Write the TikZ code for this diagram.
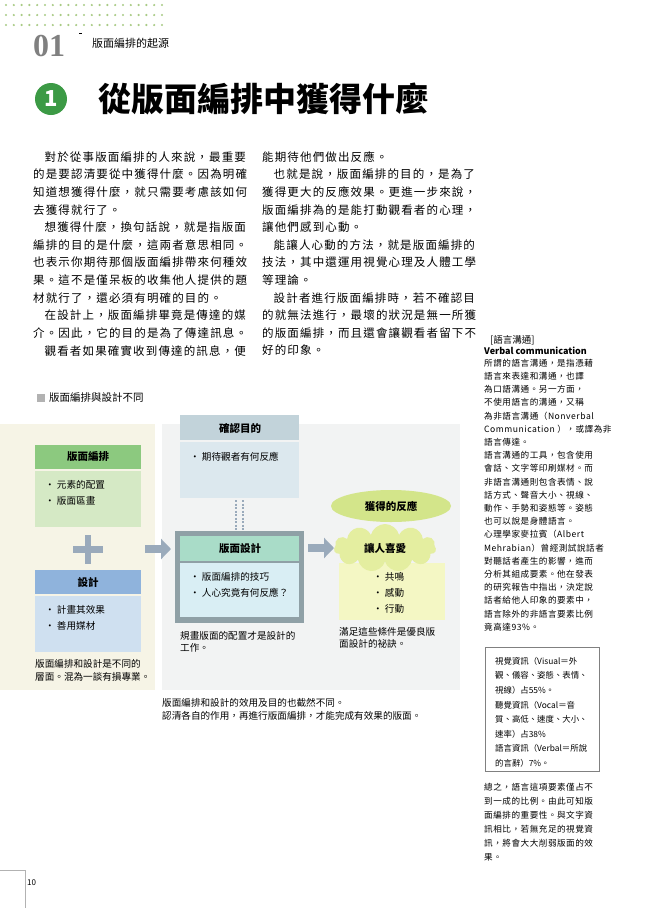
\documentclass[tikz,border=0pt]{standalone}
\usepackage{fontspec}
\setmainfont{Noto Sans CJK TC}
\newfontfamily\bodyfont[LetterSpace=10]{Noto Sans CJK TC}
\newfontfamily\sidefont[LetterSpace=6]{Noto Sans CJK TC}
\newfontfamily\serifnum{Liberation Serif}
\usetikzlibrary{shapes.geometric,shapes.symbols,arrows.meta}
\definecolor{gA}{HTML}{8CC97F}\definecolor{gB}{HTML}{D5E9C5}
\definecolor{bA}{HTML}{8FB3DC}\definecolor{bB}{HTML}{CFE0F0}
\definecolor{cA}{HTML}{C2D3DA}\definecolor{cB}{HTML}{DCE8EE}
\definecolor{tA}{HTML}{A9DCC8}\definecolor{tB}{HTML}{D9EEF4}
\definecolor{fr}{HTML}{8FA0A6}\definecolor{ar}{HTML}{9AAABB}
\definecolor{yA}{HTML}{D3E58A}\definecolor{yB}{HTML}{E4EEA0}\definecolor{yC}{HTML}{F4F7C4}
\definecolor{cream}{HTML}{F6F4E6}\definecolor{lg}{HTML}{F2F3F3}
\definecolor{dg}{HTML}{3C9A45}\definecolor{dot}{HTML}{A9CB85}
\tikzset{
 body/.style={anchor=west,inner sep=0,font=\bodyfont\fontsize{11.5}{12}\selectfont},
 side/.style={anchor=west,inner sep=0,font=\sidefont\fontsize{8.6}{9}\selectfont},
 boxt/.style={anchor=west,inner sep=0,font=\fontsize{8.4}{9}\selectfont},
 lbl/.style={anchor=west,inner sep=0,font=\fontsize{9.6}{11}\selectfont},
 hd/.style={inner sep=0,font=\fontsize{10.5}{12}\selectfont\bfseries},
 fat/.style={line width=8pt,color=ar,-{Triangle[length=10pt,width=20pt]}}
}
\begin{document}
\begin{tikzpicture}[x=1pt,y=-1pt]
\useasboundingbox (0,0) rectangle (662,908);
\fill[white] (0,0) rectangle (662,908);
\foreach \r in {0,1,2}{\foreach \c in {0,...,20}{\fill[dot] (6+\c*7.8,5+\r*10) circle (1.2);}}
\node[anchor=west,inner sep=0,text=gray,font=\serifnum\fontsize{32}{32}\selectfont\bfseries] (num) at (33,46) {01};
\fill[black] (79,33) rectangle (82,34.3);
\node[anchor=west,inner sep=0,font=\fontsize{11}{12}\selectfont] (sec) at (92,43) {版面編排的起源};
\fill[dg] (51,99) circle (16);
\node[text=white,font=\fontsize{22}{22}\selectfont\bfseries] (one) at (51,99) {1};
\node[anchor=west,inner sep=0,font=\fontsize{33}{34}\selectfont\bfseries] (title) at (98,99) {從版面編排中獲得什麼};
\foreach \t [count=\i from 0] in {
 \hspace{1em}對於從事版面編排的人來說，最重要,
 的是要認清要從中獲得什麼。因為明確,
 知道想獲得什麼，就只需要考慮該如何,
 去獲得就行了。,
 \hspace{1em}想獲得什麼，換句話說，就是指版面,
 編排的目的是什麼，這兩者意思相同。,
 也表示你期待那個版面編排帶來何種效,
 果。這不是僅呆板的收集他人提供的題,
 材就行了，還必須有明確的目的。,
 \hspace{1em}在設計上，版面編排畢竟是傳達的媒,
 介。因此，它的目的是為了傳達訊息。,
 \hspace{1em}觀看者如果確實收到傳達的訊息，便}
 {\node[body] at (33,157+\i*17.6) {\t};}
\foreach \t [count=\i from 0] in {
 能期待他們做出反應。,
 \hspace{1em}也就是說，版面編排的目的，是為了,
 獲得更大的反應效果。更進一步來說，,
 版面編排為的是能打動觀看者的心理，,
 讓他們感到心動。,
 \hspace{1em}能讓人心動的方法，就是版面編排的,
 技法，其中還運用視覺心理及人體工學,
 等理論。,
 \hspace{1em}設計者進行版面編排時，若不確認目,
 的就無法進行，最壞的狀況是無一所獲,
 的版面編排，而且還會讓觀看者留下不,
 好的印象。}
 {\node[body] at (262,157+\i*17.6) {\t};}
\node[side,font=\fontsize{9.5}{10}\selectfont] at (490,340) {[語言溝通]};
\node[side,font=\fontsize{9}{10}\selectfont\bfseries] at (484,351) {Verbal communication};
\foreach \t [count=\i from 0] in {
 所謂的語言溝通，是指憑藉,語言來表達和溝通，也譯,為口語溝通。另一方面，,不使用語言的溝通，又稱,為非語言溝通（Nonverbal,Communication ），或譯為非,語言傳達。,語言溝通的工具，包含使用,會話、文字等印刷媒材。而,非語言溝通則包含表情、說,話方式、聲音大小、視線、,動作、手勢和姿態等。姿態,也可以說是身體語言。,心理學家麥拉賓（Albert,Mehrabian）曾經測試說話者,對聽話者產生的影響，進而,分析其組成要素。他在發表,的研究報告中指出，決定說,話者給他人印象的要素中，,語言除外的非語言要素比例,竟高達93\%。}
 {\node[side] at (484,363+\i*13.2) {\t};}
\draw[gray,line width=0.6pt] (485,647) rectangle (599,771);
\foreach \t [count=\i from 0] in {
 視覺資訊（Visual＝外,觀、儀容、姿態、表情、,視線）占55\%。,聽覺資訊（Vocal＝音,質、高低、速度、大小、,速率）占38\%,語言資訊（Verbal＝所說,的言辭）7\%。}
 {\node[boxt] at (495,661+\i*14.6) {\t};}
\foreach \t [count=\i from 0] in {
 總之，語言這項要素僅占不,到一成的比例。由此可知版,面編排的重要性。與文字資,訊相比，若無充足的視覺資,訊，將會大大削弱版面的效,果。}
 {\node[side] at (484,787+\i*14.1) {\t};}
\fill[gray!60] (37,394) rectangle (45,402);
\node[anchor=west,inner sep=0,font=\fontsize{10.5}{12}\selectfont] (dtitle) at (49,398) {版面編排與設計不同};
\fill[cream] (0,424) rectangle (155,690);
\fill[lg] (162,424) rectangle (460,690);
\fill[gA] (35,445) rectangle (141,469); \node[hd] (h1) at (88,457) {版面編排};
\fill[gB] (35,471) rectangle (141,527);
\node[lbl] (l1) at (45,485) {• 元素的配置};
\node[lbl] at (45,501) {• 版面區畫};
\fill[ar] (73,546) rectangle (103,553); \fill[ar] (85,535) rectangle (91,564);
\fill[bA] (35,570) rectangle (141,594); \node[hd] (h2) at (88,582) {設計};
\fill[bB] (35,596) rectangle (141,652);
\node[lbl] at (45,610) {• 計畫其效果};
\node[lbl] at (45,626) {• 善用媒材};
\node[lbl] at (35,664) {版面編排和設計是不同的};
\node[lbl] at (35,677) {層面。混為一談有損專業。};
\fill[cA] (180,415) rectangle (299,440); \node[hd] (h3) at (240,428) {確認目的};
\fill[cB] (180,442) rectangle (299,498);
\node[lbl] at (190,457) {• 期待觀者有何反應};
\foreach \xx in {236,243}{\draw[ar,line width=2.5pt,dash pattern=on 2pt off 1.5pt] (\xx,500) -- (\xx,531);}
\fill[fr] (175,531) rectangle (304,623);
\fill[tA] (180,536) rectangle (299,561); \node[hd] (h4) at (240,549) {版面設計};
\fill[tB] (180,563) rectangle (299,617);
\node[lbl] at (190,577) {• 版面編排的技巧};
\node[lbl] at (190,593) {• 人心究竟有何反應？};
\node[lbl] at (180,636) {規畫版面的配置才是設計的};
\node[lbl] at (180,648) {工作。};
\coordinate (a1) at (145,549); \coordinate (a2) at (171,549);
\draw[fat] (a1) -- (a2);
\coordinate (a3) at (308,548); \coordinate (a4) at (334,548);
\draw[fat] (a3) -- (a4);
\node[ellipse,fill=yA,minimum width=120pt,minimum height=32pt,font=\fontsize{10.5}{12}\selectfont\bfseries] (el) at (391,506) {獲得的反應};
\fill[yC] (339,563) rectangle (445,620);
\node[cloud,cloud puffs=11,aspect=2.4,fill=yB,minimum width=102pt,minimum height=48pt,font=\fontsize{10.5}{12}\selectfont\bfseries] (cl) at (385,548) {讓人喜愛};
\node[lbl] at (373,577) {• 共鳴};
\node[lbl] at (373,593) {• 感動};
\node[lbl] at (373,609) {• 行動};
\node[lbl] at (339,632) {滿足這些條件是優良版};
\node[lbl] at (339,644) {面設計的祕訣。};
\node[lbl] at (162,703) {版面編排和設計的效用及目的也截然不同。};
\node[lbl] at (162,716) {認清各自的作用，再進行版面編排，才能完成有效果的版面。};
\draw[gray!60] (0,870) -- (25,870) -- (25,908);
\node[anchor=west,inner sep=0,font=\fontsize{8}{9}\selectfont] (pg) at (27,883) {10};
\end{tikzpicture}
\end{document}
